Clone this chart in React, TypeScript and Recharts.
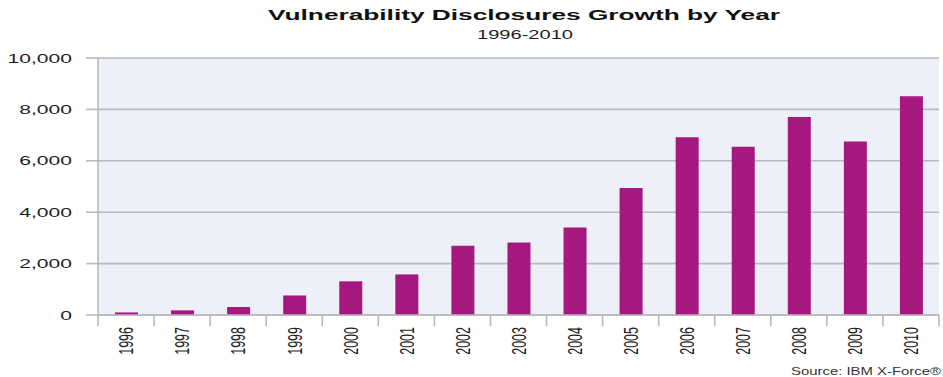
import React from 'react';
import { BarChart, Bar, XAxis, YAxis, CartesianGrid } from 'recharts';

const years = ['1996','1997','1998','1999','2000','2001','2002','2003','2004','2005','2006','2007','2008','2009','2010'];
const disclosures = [100, 180, 310, 760, 1310, 1580, 2690, 2820, 3400, 4940, 6920, 6550, 7700, 6750, 8510];
const yTicks = [0, 2000, 4000, 6000, 8000, 10000];
const titleText = 'Vulnerability Disclosures Growth by Year';
const subtitleText = '1996-2010';
const sourceText = 'Source: IBM X-Force®';

const data = years.map((y, i) => ({ year: y, value: disclosures[i] }));

const W = 943;
const H = 377;
const M = { top: 58, right: 4, bottom: 12, left: 0 };
const YW = 98;
const PLOT_W = W - M.left - M.right - YW;
const BAND = PLOT_W / years.length;
const GRID = '#b9b9bd';
const BAR = '#a5187f';
const BG = '#edf0f9';
const TXT = '#1e1e1e';
const SX = 1.62;
const FONT = '"Liberation Sans", Arial, Helvetica, sans-serif';

const XTick = (props: any) => {
  const { x, y, payload } = props;
  const half = BAND / 2;
  const isLast = payload.value === years[years.length - 1];
  return (
    <g>
      <line x1={x - half} y1={y} x2={x - half} y2={y + 11} stroke={GRID} strokeWidth={1.6} />
      {isLast && <line x1={x + half} y1={y} x2={x + half} y2={y + 11} stroke={GRID} strokeWidth={1.6} />}
      <g transform={`translate(${x},${y + 12}) scale(${SX},1) rotate(-90)`}>
        <text x={0} y={0} dy="0.36em" textAnchor="end" fontSize={12.5} fill={TXT} fontFamily={FONT}>
          {payload.value}
        </text>
      </g>
    </g>
  );
};

const YTick = (props: any) => {
  const { x, y, payload } = props;
  return (
    <g transform={`translate(${x},${y}) scale(${SX},1)`}>
      <text x={0} y={0} dy="0.36em" textAnchor="end" fontSize={13} fill={TXT} fontFamily={FONT}>
        {Number(payload.value).toLocaleString('en-US')}
      </text>
    </g>
  );
};

export default function App() {
  return (
    <div style={{ position: 'absolute', left: 0, top: 0, width: W, height: H, background: '#fff' }}>
      <BarChart width={W} height={H} data={data} margin={M}>
        <CartesianGrid vertical={false} stroke={GRID} strokeWidth={1.6} fill={BG} />
        <XAxis
          dataKey="year"
          axisLine={{ stroke: GRID, strokeWidth: 1.6 }}
          tickLine={false}
          tickSize={0}
          tickMargin={0}
          tick={<XTick />}
          height={50}
          interval={0}
        />
        <YAxis
          width={YW}
          domain={[0, 10000]}
          ticks={yTicks}
          interval={0}
          axisLine={{ stroke: GRID, strokeWidth: 1.6 }}
          tickLine={{ stroke: GRID, strokeWidth: 1.6 }}
          tickSize={12}
          tickMargin={14}
          tick={<YTick />}
        />
        <YAxis
          yAxisId="right"
          orientation="right"
          width={0}
          domain={[0, 10000]}
          axisLine={{ stroke: '#cfd0d6', strokeWidth: 1.6 }}
          tick={false}
          tickLine={false}
        />
        <Bar dataKey="value" fill={BAR} barSize={23} isAnimationActive={false} />
      </BarChart>
      <svg width={W} height={H} style={{ position: 'absolute', left: 0, top: 0, pointerEvents: 'none' }}>
        <text x={524} y={20} textAnchor="middle" fontSize={14} fontWeight="bold" fill="#111" fontFamily={FONT}
          textLength={512} lengthAdjust="spacingAndGlyphs">{titleText}</text>
        <text x={525} y={38.5} textAnchor="middle" fontSize={12.5} fill={TXT} fontFamily={FONT}
          textLength={96} lengthAdjust="spacingAndGlyphs">{subtitleText}</text>
        <text x={866} y={375} textAnchor="middle" fontSize={11} fill="#333" fontFamily={FONT}
          textLength={150} lengthAdjust="spacingAndGlyphs">{sourceText}</text>
      </svg>
    </div>
  );
}
